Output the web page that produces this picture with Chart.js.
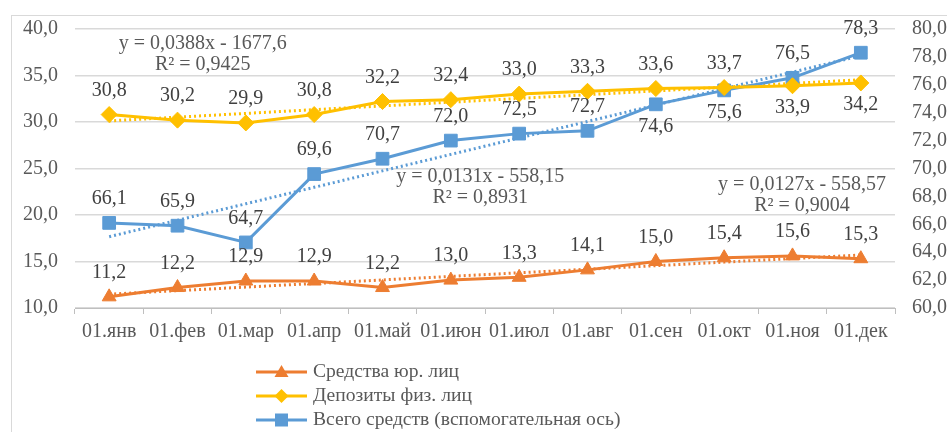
<!DOCTYPE html>
<html>
<head>
<meta charset="utf-8">
<script src="https://cdn.jsdelivr.net/npm/chart.js@4/dist/chart.umd.min.js"></script>
<style>
  html, body { margin: 0; padding: 0; background: #fff; }
  #wrap { width: 947px; height: 432px; position: relative; }
</style>
</head>
<body>
<div id="wrap"><canvas id="chart" width="947" height="432"></canvas></div>
<script>
const months = ["01.янв", "01.фев", "01.мар", "01.апр", "01.май", "01.июн", "01.июл", "01.авг", "01.сен", "01.окт", "01.ноя", "01.дек"];
const legalFunds = [11.2, 12.2, 12.9, 12.9, 12.2, 13.0, 13.3, 14.1, 15.0, 15.4, 15.6, 15.3];
const personDeposits = [30.8, 30.2, 29.9, 30.8, 32.2, 32.4, 33.0, 33.3, 33.6, 33.7, 33.9, 34.2];
const totalFunds = [66.1, 65.9, 64.7, 69.6, 70.7, 72.0, 72.5, 72.7, 74.6, 75.6, 76.5, 78.3];
const seriesNames = ["Средства юр. лиц", "Депозиты физ. лиц", "Всего средств (вспомогательная ось)"];
const trendTexts = [
  ["y = 0,0388x - 1677,6", "R² = 0,9425"],
  ["y = 0,0131x - 558,15", "R² = 0,8931"],
  ["y = 0,0127x - 558,57", "R² = 0,9004"]
];

const ORANGE = "#ED7D31", GOLD = "#FFC000", BLUE = "#5B9BD5";
const FONT = "'Liberation Serif', 'Times New Roman', serif";
const TEXT = "#595959";
const FS = 20;

// linear trend (least squares over the month index)
function trend(vals) {
  const n = vals.length;
  let sx = 0, sy = 0, sxy = 0, sxx = 0;
  vals.forEach((v, i) => { sx += i; sy += v; sxy += i * v; sxx += i * i; });
  const b = (n * sxy - sx * sy) / (n * sxx - sx * sx);
  const a = (sy - b * sx) / n;
  return vals.map((v, i) => a + b * i);
}

const fmt = v => v.toFixed(1).replace(".", ",");

// label placement: -1 above, 1 below
const legalPos = legalFunds.map(() => -1);
const personPos = personDeposits.map((v, i) => (i >= 10 ? 1 : -1));
const totalPos = totalFunds.map((v, i) => (i === 8 || i === 9 ? 1 : -1));

const labelPlugin = {
  id: "valueLabels",
  afterDatasetsDraw(chart) {
    const ctx = chart.ctx;
    ctx.save();
    ctx.font = FS + "px " + FONT;
    ctx.fillStyle = "#404040";
    ctx.textAlign = "center";
    ctx.textBaseline = "middle";
    chart.data.datasets.forEach((ds, di) => {
      if (!ds.labelPos) return;
      const meta = chart.getDatasetMeta(di);
      meta.data.forEach((pt, i) => {
        const off = ds.labelPos[i] < 0 ? -24 : 22;
        ctx.fillText(fmt(ds.data[i]), pt.x, pt.y + off);
      });
    });

    // trendline equations
    const x = chart.scales.x;
    const eqPlaces = [[1.37, 44], [5.43, 177], [10.14, 185]];
    trendTexts.forEach((lines, k) => {
      const px = x.getPixelForValue(eqPlaces[k][0]);
      ctx.fillStyle = TEXT;
      ctx.fillText(lines[0], px, eqPlaces[k][1]);
      ctx.fillText(lines[1], px, eqPlaces[k][1] + 21);
    });
    ctx.restore();
  }
};

const frameLegendPlugin = {
  id: "frameLegend",
  beforeDraw(chart) {
    const ctx = chart.ctx;
    ctx.save();
    ctx.fillStyle = "#fff";
    ctx.fillRect(0, 0, chart.width, chart.height);
    ctx.strokeStyle = "#d9d9d9";
    ctx.lineWidth = 1;
    ctx.strokeRect(11.5, 15.5, 1000, 1000);
    ctx.restore();
  },
  afterDraw(chart) {
    const ctx = chart.ctx;
    ctx.save();
    const items = [
      { color: ORANGE, shape: "tri" },
      { color: GOLD, shape: "diamond" },
      { color: BLUE, shape: "square" }
    ];
    items.forEach((it, i) => {
      const y = 372 + i * 24;
      ctx.strokeStyle = it.color;
      ctx.fillStyle = it.color;
      ctx.lineWidth = 3;
      ctx.beginPath();
      ctx.moveTo(256, y);
      ctx.lineTo(307, y);
      ctx.stroke();
      const cx = 281.5;
      ctx.beginPath();
      if (it.shape === "tri") {
        ctx.moveTo(cx, y - 7);
        ctx.lineTo(cx + 7, y + 5);
        ctx.lineTo(cx - 7, y + 5);
      } else if (it.shape === "diamond") {
        ctx.moveTo(cx, y - 7);
        ctx.lineTo(cx + 7, y);
        ctx.lineTo(cx, y + 7);
        ctx.lineTo(cx - 7, y);
      } else {
        ctx.rect(cx - 6.5, y - 6.5, 13, 13);
      }
      ctx.closePath();
      ctx.fill();
      ctx.font = "19.6px " + FONT;
      ctx.fillStyle = TEXT;
      ctx.textAlign = "left";
      ctx.textBaseline = "middle";
      ctx.fillText(seriesNames[i], 313, y);
    });
    ctx.restore();
  }
};

function lineSet(label, data, color, style, radius, axis, pos) {
  return {
    label, data, yAxisID: axis, labelPos: pos,
    borderColor: color, backgroundColor: color, borderWidth: 3,
    pointStyle: style, pointRadius: radius, pointHoverRadius: radius,
    pointBorderWidth: 1, pointBorderColor: color, tension: 0, order: 1
  };
}
function trendSet(data, color, axis) {
  return {
    label: "trend", data, yAxisID: axis,
    borderColor: color, borderWidth: 3, borderDash: [2, 3],
    pointRadius: 0, fill: false, tension: 0, order: 2
  };
}

new Chart(document.getElementById("chart"), {
  type: "line",
  data: {
    labels: months,
    datasets: [
      trendSet(trend(legalFunds), ORANGE, "y"),
      trendSet(trend(personDeposits), GOLD, "y"),
      trendSet(trend(totalFunds), BLUE, "y2"),
      lineSet(seriesNames[0], legalFunds, ORANGE, "triangle", 8, "y", legalPos),
      lineSet(seriesNames[1], personDeposits, GOLD, "rectRot", 8, "y", personPos),
      lineSet(seriesNames[2], totalFunds, BLUE, "rect", 9, "y2", totalPos)
    ]
  },
  options: {
    responsive: false,
    animation: false,
    layout: { padding: { left: 0, right: 0, top: 28, bottom: 80 } },
    plugins: { legend: { display: false }, tooltip: { enabled: false } },
    scales: {
      x: {
        offset: true,
        grid: { offset: true, drawOnChartArea: false, drawTicks: true, tickLength: 6, color: "#bfbfbf" },
        border: { color: "#bfbfbf" },
        ticks: { color: TEXT, font: { family: FONT, size: FS }, padding: 6, maxRotation: 0, autoSkip: false },
        afterFit(s) { s.height = 44; }
      },
      y: {
        position: "left", min: 10, max: 40,
        ticks: { stepSize: 5, color: TEXT, font: { family: FONT, size: FS }, padding: 17, callback: v => fmt(v) },
        grid: { color: "#d9d9d9", lineWidth: 1.5, drawTicks: false },
        border: { display: false },
        afterFit(s) { s.width = 75; }
      },
      y2: {
        position: "right", min: 60, max: 80,
        ticks: { stepSize: 2, color: TEXT, font: { family: FONT, size: FS }, padding: 17, callback: v => fmt(v) },
        grid: { drawOnChartArea: false, drawTicks: false },
        border: { display: false },
        afterFit(s) { s.width = 52; }
      }
    }
  },
  plugins: [frameLegendPlugin, labelPlugin]
});
</script>
</body>
</html>
